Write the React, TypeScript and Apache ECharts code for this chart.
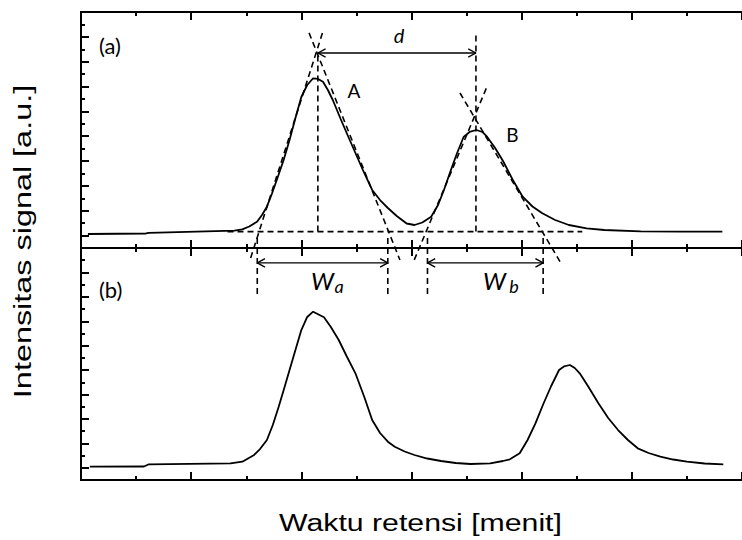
import React, { useEffect, useRef } from "react";
import * as echarts from "echarts";

// Panel (a): overlapping peaks A and B (time in axis units, signal in a.u.)
const timeA = [0.125, 1.179, 1.232, 2.786, 2.929, 3.054, 3.196, 3.286, 3.375, 3.464, 3.554, 3.679, 3.786, 3.893, 4.0, 4.107, 4.214, 4.304, 4.393, 4.482, 4.571, 4.714, 4.839, 4.982, 5.125, 5.286, 5.429, 5.571, 5.732, 5.911, 6.054, 6.196, 6.357, 6.482, 6.589, 6.696, 6.821, 6.946, 7.054, 7.179, 7.286, 7.375, 7.518, 7.661, 7.839, 8.018, 8.196, 8.375, 8.607, 8.857, 9.179, 9.5, 10.161, 10.875, 11.643];
const signalA = [0.564, 0.584, 0.612, 0.696, 0.753, 0.866, 1.059, 1.329, 1.663, 2.174, 2.738, 3.543, 4.348, 5.233, 6.079, 6.562, 6.832, 6.804, 6.695, 6.361, 5.958, 5.193, 4.549, 3.824, 3.1, 2.335, 1.932, 1.61, 1.288, 0.986, 0.926, 1.027, 1.26, 1.731, 2.335, 3.019, 3.784, 4.469, 4.67, 4.75, 4.67, 4.469, 4.026, 3.502, 2.738, 2.065, 1.671, 1.397, 1.127, 0.926, 0.793, 0.725, 0.672, 0.656, 0.656];

// Panel (b): well separated peaks
const timeB = [0.161, 1.143, 1.232, 2.714, 2.929, 3.143, 3.25, 3.375, 3.482, 3.589, 3.696, 3.786, 3.893, 4.0, 4.107, 4.214, 4.411, 4.536, 4.679, 4.821, 4.982, 5.143, 5.286, 5.429, 5.571, 5.696, 5.875, 6.054, 6.286, 6.536, 6.804, 7.071, 7.429, 7.661, 7.786, 7.964, 8.107, 8.25, 8.393, 8.536, 8.679, 8.768, 8.875, 8.964, 9.054, 9.214, 9.393, 9.571, 9.75, 9.929, 10.107, 10.304, 10.518, 10.75, 11.0, 11.321, 11.661];
const signalB = [0.545, 0.553, 0.643, 0.684, 0.749, 1.024, 1.269, 1.638, 2.252, 3.002, 3.808, 4.504, 5.323, 6.142, 6.675, 6.892, 6.663, 6.265, 5.733, 5.078, 4.369, 3.399, 2.457, 1.925, 1.568, 1.364, 1.167, 1.024, 0.88, 0.778, 0.696, 0.655, 0.684, 0.778, 0.848, 1.093, 1.638, 2.322, 3.112, 3.849, 4.504, 4.648, 4.709, 4.586, 4.369, 3.808, 3.141, 2.539, 2.047, 1.638, 1.298, 1.106, 0.954, 0.839, 0.749, 0.676, 0.643];

// Construction lines of panel (a), in panel (a) data units
const peakBaseline = [[2.66, 0.66], [9.1, 0.66]];
const peakAVertical = [[4.3, 0.66], [4.3, 7.85]];
const peakBVertical = [[7.17, 0.66], [7.17, 8.7]];
const tangentALeft = [[3.08, -0.4], [4.39, 8.7]];
const tangentARight = [[4.14, 8.66], [5.79, -0.48]];
const tangentBLeft = [[6.05, -0.48], [7.36, 6.44]];
const tangentBRight = [[6.88, 6.24], [8.7, -0.56]];
const widthAEnds = [3.2, 5.57];
const widthBEnds = [6.29, 8.39];
const widthMarkTop = 0.4;
const widthMarkBottom = -2.0;
const widthArrowLevel = -0.6;
const dArrowEnds = [4.3, 7.17];
const dArrowLevel = 7.85;

const BLACK = "#000";

function xAx(gridIndex: number, position: string) {
  return {
    type: "value",
    gridIndex,
    position,
    min: 0,
    max: 12,
    interval: 2,
    axisLine: { show: true, onZero: false, lineStyle: { color: BLACK, width: 2 } },
    axisTick: { show: true, inside: true, length: 8, lineStyle: { color: BLACK, width: 2 } },
    minorTick: { show: true, splitNumber: 2, length: 4, lineStyle: { color: BLACK, width: 2 } },
    axisLabel: { show: false },
    splitLine: { show: false },
    minorSplitLine: { show: false },
  };
}

function dataY(gridIndex: number) {
  return { type: "value", gridIndex, min: 0, max: 9.5, show: false, position: "left" };
}

function tickY(gridIndex: number, interval: number, length: number) {
  return {
    type: "value",
    gridIndex,
    position: "left",
    inverse: true,
    min: 0,
    max: 9.5,
    interval,
    axisLine: { show: true, onZero: false, lineStyle: { color: BLACK, width: 2 } },
    axisTick: { show: true, inside: true, length, lineStyle: { color: BLACK, width: 2 } },
    axisLabel: { show: false },
    splitLine: { show: false },
  };
}

function seg(data: number[][], dashed: boolean) {
  return {
    type: "line",
    xAxisIndex: 0,
    yAxisIndex: 0,
    data,
    symbol: "none",
    clip: false,
    silent: true,
    z: 4,
    lineStyle: { color: BLACK, width: dashed ? 1.6 : 1.4, type: dashed ? [6, 4] : "solid" },
  };
}

const HEAD_X = 0.14;
const HEAD_Y = 0.17;
function head(tipX: number, tipY: number, dir: number) {
  return seg(
    [
      [tipX - dir * HEAD_X, tipY + HEAD_Y],
      [tipX, tipY],
      [tipX - dir * HEAD_X, tipY - HEAD_Y],
    ],
    false
  );
}
function doubleArrow(ends: number[], level: number) {
  return [
    seg([[ends[0], level], [ends[1], level]], false),
    head(ends[0], level, -1),
    head(ends[1], level, 1),
  ];
}

function txt(text: string, x: number, y: number, font: string, align = "center", extra: any = {}) {
  return {
    type: "text",
    x,
    y,
    silent: true,
    z: 10,
    ...extra,
    style: {
      text,
      font,
      fill: BLACK,
      align,
      textAlign: align,
      verticalAlign: "middle",
      textVerticalAlign: "middle",
    },
  };
}

export default function App() {
  const ref = useRef<HTMLDivElement>(null);
  useEffect(() => {
    if (!ref.current) return;
    const chart = echarts.init(ref.current, null, { renderer: "svg" });
    const series: any[] = [
      {
        type: "line",
        xAxisIndex: 0,
        yAxisIndex: 0,
        data: timeA.map((t, i) => [t, signalA[i]]),
        symbol: "none",
        silent: true,
        z: 5,
        lineStyle: { color: BLACK, width: 1.8 },
      },
      {
        type: "line",
        xAxisIndex: 2,
        yAxisIndex: 3,
        data: timeB.map((t, i) => [t, signalB[i]]),
        symbol: "none",
        silent: true,
        z: 5,
        lineStyle: { color: BLACK, width: 1.8 },
      },
      seg(peakBaseline, true),
      seg(peakAVertical, true),
      seg(peakBVertical, true),
      seg(tangentALeft, true),
      seg(tangentARight, true),
      seg(tangentBLeft, true),
      seg(tangentBRight, true),
      ...widthAEnds.map((x) => seg([[x, widthMarkTop], [x, widthMarkBottom]], true)),
      ...widthBEnds.map((x) => seg([[x, widthMarkTop], [x, widthMarkBottom]], true)),
      ...doubleArrow(dArrowEnds, dArrowLevel),
      ...doubleArrow(widthAEnds, widthArrowLevel),
      ...doubleArrow(widthBEnds, widthArrowLevel),
    ];
    const option: any = {
      animation: false,
      grid: [
        { left: 81, top: 12, width: 672, height: 236 },
        { left: 81, top: 248, width: 672, height: 232 },
      ],
      xAxis: [xAx(0, "bottom"), xAx(0, "top"), xAx(1, "bottom"), xAx(1, "top")],
      yAxis: [dataY(0), tickY(0, 1, 8), tickY(0, 0.5, 4), dataY(1), tickY(1, 1, 8), tickY(1, 0.5, 4)],
      series,
      graphic: [
        txt("(a)", 99, 45, '22px Lato', "left"),
        txt("(b)", 99, 289.5, '22px Lato', "left"),
        txt("A", 354, 90, '19px Lato'),
        txt("B", 512.5, 134.5, '19px Lato'),
        txt("d", 399, 35.3, 'italic 20px Lato'),
        txt("W", 322.5, 280.7, 'italic 24px Lato'),
        txt("a", 339, 285.5, 'italic 18px Lato'),
        txt("W", 494.5, 280.7, 'italic 24px Lato'),
        txt("b", 514, 286, 'italic 18px Lato'),
        txt("Waktu retensi [menit]", 420.5, 523.5, '23px "Liberation Sans", Arial, sans-serif', "center", { scaleX: 1.315 }),
        txt("Intensitas signal [a.u.]", 22.8, 241.5, '24px "Liberation Sans", Arial, sans-serif', "center", {
          rotation: Math.PI / 2,
          scaleX: 1.35,
        }),
      ],
    };
    chart.setOption(option);
    return () => chart.dispose();
  }, []);
  return (
    <div
      ref={ref}
      style={{ position: "fixed", left: 0, top: 0, width: 742, height: 540, background: "#fff" }}
    />
  );
}
